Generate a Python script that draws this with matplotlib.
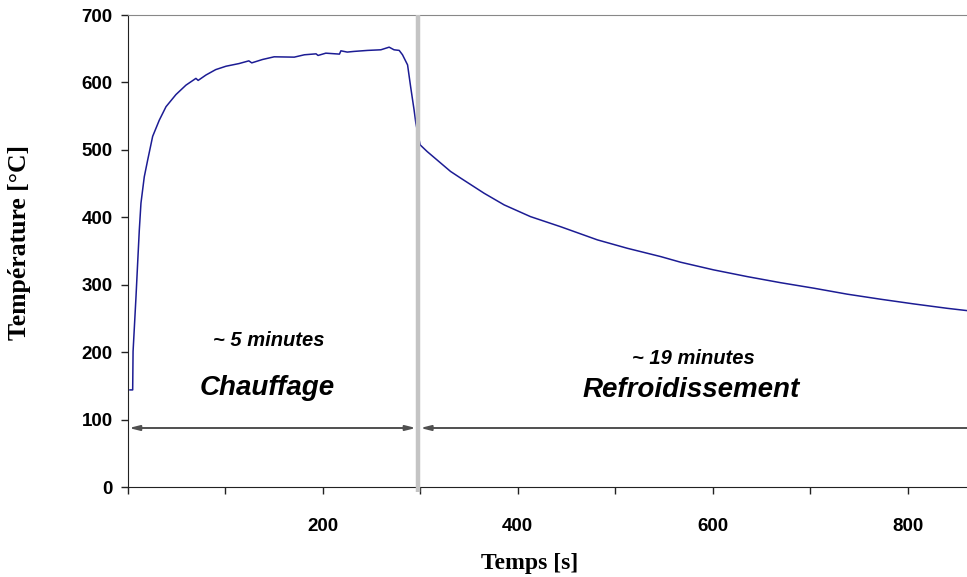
import matplotlib
matplotlib.use("Agg")
import matplotlib.pyplot as plt

# Data
temps_s = [2, 4.8, 5.2, 8.2, 9.9, 11.6, 13.3, 16.7, 20.2, 25.3, 32.1, 39, 49.2, 59.5,
           69.7, 72, 80, 90, 100.5, 114, 124, 127, 138, 150, 170.6, 181, 193, 195,
           203, 217, 218.5, 225, 232, 246, 259.5, 268, 273, 278.3, 281.7, 286.9,
           290, 293.6, 295.4, 299.8, 307, 331, 341.5, 365.5, 386, 413, 444, 481.7,
           512.5, 546.7, 567, 601, 635.6, 669.7, 704, 738, 772.3, 806.5, 840.7, 861]
temperature_c = [144, 144, 201, 282, 332, 381, 421, 460, 485, 520, 544, 564, 582, 596,
                 606, 603, 611, 619, 624, 628, 632, 629, 634, 638, 637.5, 641, 642.4, 640,
                 643.4, 642, 646.9, 645, 646, 647.5, 648.4, 652.3, 648.4, 647.5, 641, 626,
                 594, 559, 539.6, 507.4, 497.5, 468, 458, 435.6, 418.4, 401, 386, 366.5,
                 354, 341.7, 333.4, 322, 312, 303, 294.8, 286, 278.5, 271.5, 265, 261.6]

x_ticks = [0, 100, 200, 300, 400, 500, 600, 700, 800]
x_tick_labels = ["", "", "200", "", "400", "", "600", "", "800"]
y_ticks = [0, 100, 200, 300, 400, 500, 600, 700]
y_tick_labels = ["0", "100", "200", "300", "400", "500", "600", "700"]

separation_s = 297.4
arrow_y = 87.5
phase_labels = ["Chauffage", "Refroidissement"]
duration_labels = ["~ 5 minutes", "~ 19 minutes"]

fig = plt.figure(figsize=(9.67, 5.77), dpi=100)
ax = fig.add_axes([128/967, 90/577, 1 - 128/967, (487-15)/577])

ax.plot(temps_s, temperature_c, color="#1c1c94", lw=1.1, zorder=3)

ax.set_xlim(0, 861)
ax.set_ylim(0, 700)

# separation line
ax.plot([separation_s, separation_s], [-8, 700], color="#c4c4c4", lw=3.2,
        clip_on=False, zorder=4, solid_capstyle="butt")

# duration arrows
ax.annotate("", xy=(1, arrow_y), xytext=(295.5, arrow_y),
            arrowprops=dict(arrowstyle="<|-|>,head_length=0.6,head_width=0.15",
                            color="#505050", lw=1.4, shrinkA=0, shrinkB=0))
ax.annotate("", xy=(300, arrow_y), xytext=(880, arrow_y),
            arrowprops=dict(arrowstyle="-|>,head_length=0.6,head_width=0.15", color="#505050",
                            lw=1.4, shrinkA=0, shrinkB=0), annotation_clip=False)

tf = dict(family="Liberation Sans", weight="bold", style="italic", ha="center", va="center")
ax.text(144.6, 218, duration_labels[0], fontsize=14.5, **tf)
ax.text(143.3, 147, phase_labels[0], fontsize=20, **tf)
ax.text(580.5, 190, duration_labels[1], fontsize=14.5, **tf)
ax.text(577.4, 144, phase_labels[1], fontsize=20, **tf)

ax.set_xticks(x_ticks)
ax.set_xticklabels(x_tick_labels)
ax.set_yticks(y_ticks)
ax.set_yticklabels(y_tick_labels)
for lab in ax.get_xticklabels() + ax.get_yticklabels():
    lab.set_family("Liberation Sans")
    lab.set_weight("bold")
    lab.set_fontsize(13.5)
ax.tick_params(axis="both", direction="out", length=5, width=1, color="#222222")
ax.tick_params(axis="x", pad=17)
ax.tick_params(axis="y", pad=6)

ax.spines["right"].set_visible(False)
ax.spines["top"].set_color("#888888")
ax.spines["left"].set_color("#222222")
ax.spines["bottom"].set_color("#222222")

fig.text(20/967, 1 - 242/577, "Température [°C]", rotation=90, ha="center", va="center",
         family="Liberation Serif", weight="bold", fontsize=18.5)
fig.text(530/967, 1 - 564/577, "Temps [s]", ha="center", va="center",
         family="Liberation Serif", weight="bold", fontsize=17)

fig.savefig("out.png", dpi=100)
